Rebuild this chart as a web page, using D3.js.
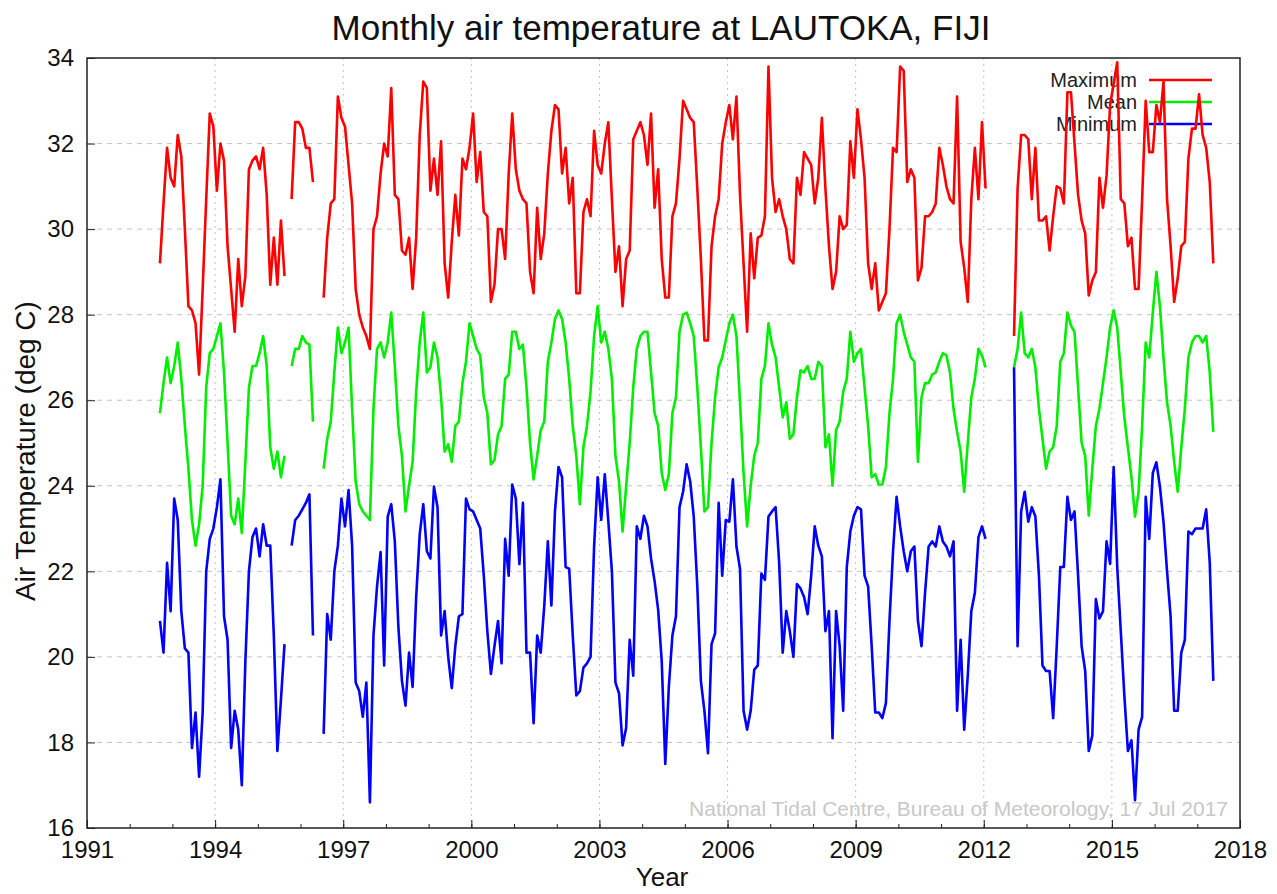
<!DOCTYPE html>
<html>
<head>
<meta charset="utf-8" />
<title>Monthly air temperature at LAUTOKA, FIJI</title>
<style>
  body { margin: 0; background: #fff; }
  svg { font-family: "Liberation Sans", Arial, sans-serif; }
</style>
</head>
<body>
<div id="chart"></div>
<script src="https://d3js.org/d3.v7.min.js"></script>
<script>
(function(d3) {
'use strict';

// monthly series start Sep 1992, one value per month, null = missing
var startYear = 1992;
var startMonth = 9;

var maximum = [
  29.2, 30.6, 31.9, 31.2,
  31.0, 32.2, 31.7, 30.0, 28.2, 28.1, 27.8, 26.6, 28.6, 30.7, 32.7, 32.4,
  30.9, 32.0, 31.6, 29.6, 28.6, 27.6, 29.3, 28.2, 28.9, 31.4, 31.6, 31.7,
  31.4, 31.9, 30.8, 28.7, 29.8, 28.7, 30.2, 28.9, null, 30.7, 32.5, 32.5,
  32.35, 31.9, 31.9, 31.1, null, null, 28.4, 29.8, 30.6, 30.7, 33.1, 32.6,
  32.4, 31.5, 30.6, 28.6, 28.0, 27.7, 27.5, 27.2, 30.0, 30.3, 31.3, 32.0,
  31.7, 33.3, 30.8, 30.7, 29.5, 29.4, 29.8, 28.6, 29.8, 32.2, 33.45, 33.3,
  30.9, 31.65, 30.8, 32.05, 29.2, 28.4, 29.7, 30.8, 29.85, 31.65, 31.4, 31.9,
  32.7, 31.1, 31.8, 30.4, 30.3, 28.3, 28.7, 30.0, 30.0, 29.3, 31.3, 32.7,
  31.4, 30.9, 30.7, 30.6, 29.0, 28.5, 30.5, 29.3, 29.9, 31.3, 32.3, 32.9,
  32.8, 31.3, 31.9, 30.6, 31.2, 28.5, 28.5, 30.4, 30.7, 30.3, 32.3, 31.5,
  31.3, 32.0, 32.5, 30.7, 29.0, 29.6, 28.2, 29.3, 29.5, 32.1, 32.3, 32.5,
  32.2, 31.5, 32.7, 30.5, 31.4, 29.3, 28.4, 28.4, 30.3, 30.6, 31.65, 33.0,
  32.8, 32.6, 32.5, 30.95, 29.3, 27.4, 27.4, 29.6, 30.3, 30.7, 32.0, 32.5,
  32.9, 32.1, 33.1, 30.8, 29.2, 27.6, 29.9, 28.85, 29.8, 29.85, 30.3, 33.8,
  31.2, 30.4, 30.7, 30.3, 30.0, 29.3, 29.2, 31.2, 30.8, 31.8, 31.65, 31.5,
  30.6, 31.2, 32.6, 30.95, 29.6, 28.6, 29.0, 30.3, 30.0, 30.1, 32.05, 31.2,
  32.8, 32.1, 31.2, 29.2, 28.6, 29.2, 28.1, 28.3, 28.5, 30.0, 31.9, 31.8,
  33.8, 33.7, 31.1, 31.4, 31.2, 28.8, 29.1, 30.3, 30.3, 30.4, 30.6, 31.9,
  31.5, 31.0, 30.7, 30.6, 33.1, 29.7, 29.1, 28.3, 30.7, 31.9, 30.7, 32.5,
  30.95, null, null, null, null, null, null, null, 27.5, 30.95, 32.2, 32.2,
  32.1, 30.7, 31.9, 30.2, 30.2, 30.3, 29.5, 30.3, 31.0, 30.95, 30.6, 33.2,
  33.2, 32.0, 30.8, 30.2, 29.9, 28.45, 28.8, 29.0, 31.2, 30.5, 31.25, 32.9,
  33.4, 33.9, 30.7, 30.6, 29.6, 29.8, 28.6, 28.6, 30.7, 33.0, 31.8, 31.8,
  32.9, 32.5, 33.45, 30.7, 29.6, 28.3, 28.85, 29.6, 29.7, 31.65, 32.35, 32.35,
  33.15, 32.2, 31.9, 31.1, 29.2
];

var mean = [
  25.7, 26.4, 27.0, 26.4,
  26.8, 27.35, 26.5, 25.4, 24.4, 23.2, 22.6, 23.1, 24.0, 26.3, 27.1, 27.2,
  27.5, 27.8, 26.65, 25.0, 23.3, 23.1, 23.7, 22.9, 24.55, 26.3, 26.8, 26.8,
  27.1, 27.5, 26.8, 24.9, 24.4, 24.8, 24.2, 24.7, null, 26.8, 27.2, 27.2,
  27.5, 27.35, 27.3, 25.5, null, null, 24.4, 25.1, 25.5, 26.65, 27.7, 27.1,
  27.35, 27.7, 25.8, 24.1, 23.57, 23.4, 23.3, 23.2, 25.8, 27.2, 27.35, 27.0,
  27.35, 28.05, 26.8, 25.4, 24.7, 23.4, 24.0, 24.56, 26.2, 27.35, 28.05, 26.65,
  26.77, 27.35, 27.0, 26.07, 24.8, 24.97, 24.56, 25.4, 25.5, 26.4, 26.9, 27.8,
  27.5, 27.2, 27.05, 26.07, 25.7, 24.5, 24.6, 25.2, 25.4, 26.5, 26.6, 27.6,
  27.6, 27.2, 27.3, 26.3, 25.0, 24.15, 24.7, 25.3, 25.5, 26.9, 27.35, 27.9,
  28.1, 27.9, 27.35, 26.5, 25.4, 24.7, 23.57, 24.9, 25.4, 26.2, 27.5, 28.2,
  27.35, 27.6, 27.2, 26.5, 24.7, 24.1, 22.93, 23.98, 25.0, 26.3, 27.2, 27.5,
  27.6, 27.6, 26.65, 25.7, 25.4, 24.3, 23.9, 24.27, 25.7, 26.07, 27.6, 28.0,
  28.05, 27.8, 27.5, 26.3, 24.9, 23.4, 23.5, 25.0, 26.07, 26.77, 27.0, 27.4,
  27.8, 28.0, 27.5, 25.95, 24.3, 23.05, 24.0, 24.7, 25.0, 26.5, 26.8, 27.8,
  27.3, 27.0, 26.3, 25.6, 25.95, 25.1, 25.2, 26.07, 26.7, 26.65, 26.8, 26.5,
  26.5, 26.9, 26.8, 24.9, 25.2, 24.0, 25.3, 25.5, 26.2, 26.5, 27.6, 26.9,
  27.1, 27.2, 26.3, 25.4, 24.2, 24.27, 24.03, 24.03, 24.44, 25.7, 26.5, 27.8,
  28.0, 27.6, 27.3, 27.0, 26.9, 24.56, 26.07, 26.4, 26.4, 26.6, 26.65, 26.9,
  27.1, 27.05, 26.65, 25.8, 25.26, 24.8, 23.86, 25.0, 26.07, 26.5, 27.2, 27.05,
  26.77, null, null, null, null, null, null, null, 26.77, 27.2, 28.05, 27.1,
  27.0, 27.2, 26.77, 25.8, 25.1, 24.4, 24.8, 24.9, 25.4, 26.9, 27.1, 28.05,
  27.75, 27.6, 26.3, 25.0, 24.7, 23.3, 24.4, 25.4, 25.8, 26.4, 27.0, 27.7,
  28.1, 27.7, 26.65, 25.6, 24.9, 24.2, 23.28, 23.86, 25.4, 27.35, 27.0, 28.05,
  29.0, 28.2, 27.0, 25.95, 25.4, 24.56, 23.86, 24.9, 25.8, 27.0, 27.35, 27.5,
  27.5, 27.35, 27.5, 26.65, 25.26
];

var minimum = [
  20.84, 20.1, 22.2, 21.07,
  23.7, 23.2, 21.07, 20.2, 20.1, 17.87, 18.7, 17.2, 18.7, 22.0, 22.76, 23.0,
  23.5, 24.15, 20.95, 20.4, 17.87, 18.74, 18.3, 17.0, 19.9, 22.0, 22.8, 23.0,
  22.35, 23.1, 22.6, 22.6, 20.5, 17.8, 19.0, 20.3, null, 22.6, 23.2, 23.3,
  23.45, 23.6, 23.8, 20.5, null, null, 18.2, 21.0, 20.4, 22.0, 22.6, 23.7,
  23.05, 23.9, 22.6, 19.4, 19.2, 18.6, 19.4, 16.6, 20.5, 21.65, 22.45, 19.8,
  23.28, 23.57, 22.7, 20.7, 19.44, 18.86, 20.1, 19.3, 21.4, 22.87, 23.57, 22.47,
  22.3, 23.98, 23.5, 20.5, 21.07, 20.0, 19.27, 20.25, 20.95, 21.0, 23.7, 23.45,
  23.4, 23.2, 23.0, 21.9, 20.6, 19.6, 20.25, 20.84, 19.85, 22.76, 21.9, 24.03,
  23.7, 22.17, 23.6, 20.1, 20.1, 18.45, 20.5, 20.1, 21.2, 22.7, 21.2, 23.4,
  24.44, 24.2, 22.1, 22.06, 20.5, 19.1, 19.2, 19.75, 19.85, 20.0, 22.58, 24.2,
  23.2, 24.27, 23.16, 22.0, 19.4, 19.15, 17.93, 18.34, 20.4, 19.56, 23.05, 22.76,
  23.3, 23.05, 22.3, 21.77, 21.1, 19.9, 17.5, 19.3, 20.5, 20.95, 23.5, 23.86,
  24.5, 24.1, 23.28, 21.65, 19.44, 18.74, 17.75, 20.3, 20.55, 23.6, 21.9, 23.2,
  23.16, 24.15, 22.58, 22.06, 18.74, 18.3, 18.74, 19.7, 19.8, 21.95, 21.8, 23.28,
  23.4, 23.5, 22.2, 20.1, 21.07, 20.6, 20.0, 21.7, 21.6, 21.4, 21.0, 21.9,
  23.05, 22.6, 22.35, 20.6, 21.07, 18.1, 21.07, 20.25, 18.74, 22.1, 22.93, 23.3,
  23.5, 23.45, 21.9, 21.65, 20.25, 18.7, 18.7, 18.57, 18.92, 20.84, 22.47, 23.74,
  23.05, 22.47, 22.0, 22.47, 22.58, 20.84, 20.25, 21.5, 22.58, 22.7, 22.58, 23.05,
  22.7, 22.58, 22.35, 22.7, 18.74, 20.4, 18.3, 19.56, 21.07, 21.5, 22.8, 23.05,
  22.76, null, null, null, null, null, null, null, 26.77, 20.25, 23.4, 23.86,
  23.16, 23.5, 23.28, 21.9, 19.8, 19.67, 19.67, 18.57, 20.25, 22.1, 22.1, 23.74,
  23.2, 23.4, 21.9, 20.25, 19.67, 17.8, 18.16, 21.35, 20.9, 21.07, 22.7, 22.17,
  24.44, 22.1, 20.6, 19.1, 17.8, 18.05, 16.65, 18.3, 18.6, 23.74, 22.76, 24.3,
  24.55, 23.98, 23.16, 22.0, 20.95, 18.74, 18.74, 20.1, 20.4, 22.93, 22.87, 23.0,
  23.0, 23.0, 23.45, 22.2, 19.44
];

var seriesNames = ['Maximum', 'Mean', 'Minimum'];
var seriesColors = ['#ff0000', '#00ee00', '#0000ff'];
var xTicks = [1991, 1994, 1997, 2000, 2003, 2006, 2009, 2012, 2015, 2018];
var yTicks = [16, 18, 20, 22, 24, 26, 28, 30, 32, 34];

var width = 1277;
var height = 894;
var margin = { top: 58, right: 37, bottom: 66, left: 87 };
var innerW = width - margin.left - margin.right;
var innerH = height - margin.top - margin.bottom;
var fontStack = '"Liberation Sans", Arial, sans-serif';

function toSeries(values) {
  return values.map(function(v, i) {
    return { t: startYear + (startMonth - 1 + i) / 12 + 1 / 24, v: v };
  });
}
var series = [maximum, mean, minimum].map(toSeries);

var x = d3.scaleLinear().domain([1991, 2018]).range([0, innerW]);
var y = d3.scaleLinear().domain([16, 34]).range([innerH, 0]);

var svg = d3.select('#chart')
  .append('svg')
  .attr('width', width)
  .attr('height', height);

svg.append('text')
  .attr('x', 661)
  .attr('y', 40)
  .attr('text-anchor', 'middle')
  .style('font-size', '35px')
  .attr('fill', '#111')
  .text('Monthly air temperature at LAUTOKA, FIJI');

var g = svg.append('g')
  .attr('transform', 'translate(' + margin.left + ',' + margin.top + ')');

// grid
g.selectAll('.vgrid')
  .data(xTicks.slice(1, -1))
  .enter().append('line')
  .attr('x1', function(d) { return x(d); })
  .attr('x2', function(d) { return x(d); })
  .attr('y1', 0).attr('y2', innerH)
  .attr('stroke', '#c4c4c4')
  .attr('stroke-width', 1)
  .attr('stroke-dasharray', '2,4');

g.selectAll('.hgrid')
  .data(yTicks.slice(1, -1))
  .enter().append('line')
  .attr('x1', 0).attr('x2', innerW)
  .attr('y1', function(d) { return y(d); })
  .attr('y2', function(d) { return y(d); })
  .attr('stroke', '#c4c4c4')
  .attr('stroke-width', 1)
  .attr('stroke-dasharray', '5,5');

// axes, ticks pointing inward
var xAxis = g.append('g')
  .attr('transform', 'translate(0,' + innerH + ')')
  .call(d3.axisBottom(x).tickValues(xTicks).tickFormat(d3.format('d'))
    .tickSizeInner(-8).tickSizeOuter(0).tickPadding(13));
var xMinor = g.append('g')
  .attr('transform', 'translate(0,' + innerH + ')')
  .call(d3.axisBottom(x).tickValues(d3.range(1991, 2019)).tickFormat('')
    .tickSizeInner(-4).tickSizeOuter(0));
var yAxis = g.append('g')
  .call(d3.axisLeft(y).tickValues(yTicks).tickFormat(d3.format('d'))
    .tickSizeInner(-8).tickSizeOuter(0).tickPadding(13));

[xAxis, xMinor, yAxis].forEach(function(a) {
  a.select('.domain').remove();
  a.selectAll('line').attr('stroke', '#222');
  a.selectAll('text')
    .style('font-size', '24px')
    .style('font-family', fontStack)
    .attr('fill', '#111');
});

// credit
g.append('text')
  .attr('x', innerW - 12)
  .attr('y', innerH - 12)
  .attr('text-anchor', 'end')
  .style('font-size', '21px')
  .attr('fill', '#c8c8c8')
  .text('National Tidal Centre, Bureau of Meteorology, 17 Jul 2017');

// legend
var legend = g.append('g');
seriesNames.forEach(function(name, i) {
  var ly = 22 + i * 22;
  legend.append('text')
    .attr('x', innerW - 103)
    .attr('y', ly + 7)
    .attr('text-anchor', 'end')
    .style('font-size', '20px')
    .attr('fill', '#222')
    .text(name);
  legend.append('line')
    .attr('x1', innerW - 91).attr('x2', innerW - 28)
    .attr('y1', ly).attr('y2', ly)
    .attr('stroke', seriesColors[i])
    .attr('stroke-width', 2.5);
});

// lines
var line = d3.line()
  .defined(function(d) { return d.v != null; })
  .x(function(d) { return x(d.t); })
  .y(function(d) { return y(d.v); });

g.selectAll('.series')
  .data(series)
  .enter().append('path')
  .attr('fill', 'none')
  .attr('stroke', function(d, i) { return seriesColors[i]; })
  .attr('stroke-width', 2.6)
  .attr('stroke-linejoin', 'round')
  .attr('d', line);

// frame
g.append('rect')
  .attr('width', innerW)
  .attr('height', innerH)
  .attr('fill', 'none')
  .attr('stroke', '#222')
  .attr('stroke-width', 1.5);

// axis titles
svg.append('text')
  .attr('x', 662)
  .attr('y', 886)
  .attr('text-anchor', 'middle')
  .style('font-size', '26px')
  .attr('fill', '#111')
  .text('Year');

svg.append('text')
  .attr('transform', 'translate(35,' + (margin.top + innerH / 2 + 8) + ') rotate(-90)')
  .attr('text-anchor', 'middle')
  .style('font-size', '28px')
  .attr('fill', '#111')
  .text('Air Temperature (deg C)');

})(window.d3);
</script>
</body>
</html>
